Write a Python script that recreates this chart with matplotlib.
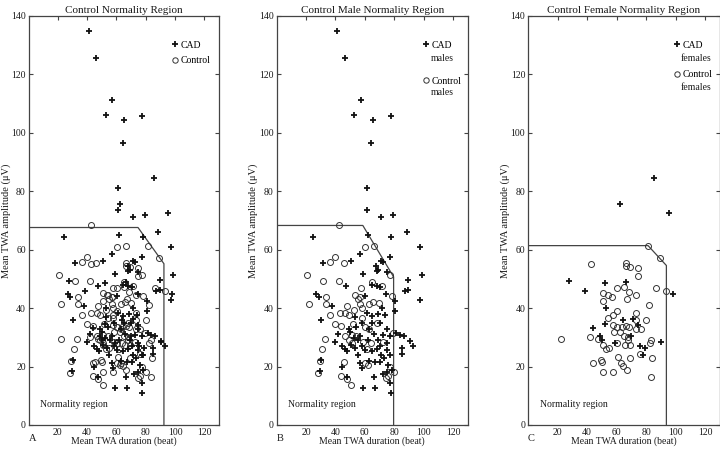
import numpy as np
import matplotlib
matplotlib.use("Agg")
import matplotlib.pyplot as plt

plt.rcParams['font.family'] = ['Liberation Serif', 'DejaVu Serif']

# ---------------- data ----------------
# Males: CAD patients
cad_male_x = [41, 46.2, 57.2, 52.7, 65.4, 77.6, 64.2, 61.3,
              61.3, 71, 79.4, 24.5, 62, 88.4, 77.8, 97.4, 56.8, 77.1, 71, 72.6,
              50.5, 31.5, 67.6, 69.2, 68.1, 74.8, 59, 89.5, 98.6, 47.3, 64.7, 68.1,
              70.3, 87.3, 89.5, 27, 28.6, 74.4, 60.4,
              30.4, 39.8, 44.4, 46.6, 50, 52.3, 55.6, 56.8, 61.3, 64.7, 68.7, 71.5,
              73.7, 74.8, 72.6, 77.1, 81.2, 83.9, 86.6, 90.6, 92.9, 85, 85, 60.2,
              64.7, 68.1, 70.3, 74.8, 77.1, 56.8, 57.9, 67, 70.3, 44.4, 30.4, 29.7,
              47.7, 66.5, 74.8, 78.2, 77.1, 77.5, 59, 66.9, 80.5, 80.5, 97.4, 37.6,
              50.5, 53.5, 48, 63, 66, 58, 54, 70, 62, 73, 76, 72,
              53, 49, 58, 65, 69, 75, 71, 63, 55, 42]
cad_male_y = [134.8, 125.5, 111.3, 106.1, 104.3, 105.8, 96.4, 81.2,
              73.6, 71.3, 71.8, 64.3, 65.2, 66.1, 64.4, 61, 58.6, 57.5, 56.3, 55.7,
              56.3, 55.3, 54.3, 53.2, 52.6, 52.3, 51.7, 49.8, 51.5, 47.7, 48, 47.7,
              47.2, 45.8, 46.3, 44.8, 43.8, 45, 44.3,
              35.8, 28.3, 27.1, 26, 31.7, 29.7, 29.2, 30.5, 38.3, 37.2, 38.1, 40,
              37.7, 32.8, 30.9, 30.3, 31.5, 30.9, 30.5, 28.6, 27.1, 26.3, 24.4, 25.7,
              25.2, 26, 26.9, 25.7, 24, 21.2, 19.4, 21.7, 21.7, 20, 22.3, 18.5,
              16.6, 16.6, 18.3, 18.9, 14.5, 11.1, 12.6, 12.6, 42.3, 38.9, 42.9, 40.6,
              27.5, 26.5, 25.5, 33, 31, 35, 33.5, 35, 29, 23, 20.5, 17.5,
              37, 33, 27, 35, 29, 28, 24, 22, 24, 31]

# Males: controls
control_male_x = [42.3, 66.5, 60.2, 39.8, 36.5, 45.9, 20.6, 31.9, 42.1, 57.5, 65.1,
                  71.5, 77.1, 78.2, 33.5, 53.4, 56.8, 55,
                  22.2, 33.5, 36.5, 42.8, 47.7, 46.6, 48.9, 52.7, 56.8, 57.9, 63.1,
                  65.8, 69.9, 57.9, 39.8, 43.7, 51.8, 60.2, 63.1, 68.1, 33.1, 30.8,
                  46.6, 51.1, 54.1, 48.9, 51.1, 58.6, 64, 61.7, 72.6, 79.4, 29.2,
                  28.5, 45.5, 62.4, 60.2, 43.9, 47.7, 50.5, 77.1, 80, 76, 74.4]
control_male_y = [68.6, 61.4, 60.9, 57.4, 55.7, 55.3, 51.4, 49.4, 49.4, 46.9, 48.8,
                  47.5, 51.5, 44.3, 43.8, 44.6, 43.8, 43.1,
                  41.3, 41.3, 37.5, 38.3, 40.8, 38.3, 37.7, 39.5, 41.5, 40, 41.5,
                  42, 41.8, 36.6, 34.7, 34, 34.7, 33.7, 32.8, 34.9, 29.4, 26,
                  30.5, 30.9, 30.3, 29.2, 28, 28.3, 28, 26, 28.3, 31.5, 22,
                  17.7, 21.4, 20.6, 21.2, 16.8, 15.7, 13.7, 20, 18.3, 16.8, 16]

# Females: CAD patients
cad_female_x = [62.2, 85.4, 95.5, 27.9, 38.5, 52, 66.2, 98.2, 52.7, 64, 71.2,
                74.6, 43.7, 52, 48.6, 49.8, 58.8, 70, 90.3, 75.7, 79, 77.9]
cad_female_y = [75.8, 84.7, 72.4, 49.4, 45.8, 48.6, 48.8, 44.8, 40, 36, 36.3,
                34.3, 33.2, 34.5, 30.3, 29.2, 28, 30.3, 28.3, 27.1, 26.3, 24]

# Females: controls
control_female_x = [81.3, 89.2, 42.6, 66.2, 66.2, 69, 74.8, 74.5, 93.2, 86.5, 60.4,
                    65.1, 68.5, 73, 50.9, 54.3, 57.2, 50.5, 67.3, 82, 60.4, 57.7,
                    54.3, 73, 80.2, 73.4, 57.7, 60.4, 63.7, 66.2, 68.5, 73.4, 76.4,
                    58.1, 62.2, 22.1, 41.9, 47.5, 65.3, 67.8, 67.6, 50.5, 54.9, 52.7,
                    60.4, 65.5, 68.9, 83.6, 82.4, 43.7, 49.1, 49.8, 61, 68.9, 76.1,
                    84.2, 63.3, 64.4, 66.7, 50.9, 57.7, 83.6]
control_female_y = [61.2, 57.0, 55.1, 55.5, 54.3, 54.1, 53.8, 51.1, 45.8, 46.9, 46.9,
                    47.1, 45.4, 44.6, 45.2, 44.4, 43.7, 42.6, 43.1, 41, 38.9, 37.7,
                    36.6, 38.5, 35.8, 35.8, 34.3, 33.7, 33.5, 34, 33.7, 32.8, 32.8,
                    31.7, 32, 29.4, 30, 29.4, 30.5, 30.1, 29.2, 27.5, 26.3, 26,
                    28, 27.5, 27.5, 29.2, 28, 21.2, 22.3, 21.7, 23.4, 22.9, 24.4,
                    23.1, 21.2, 20.2, 18.9, 18.3, 18.3, 16.4]

# Normality region boundaries (duration, amplitude)
bound_all_x = [0, 74.7, 92.4, 92.4]
bound_all_y = [67.6, 67.6, 55.2, 0]
bound_male_x = [0, 58.6, 79.5, 79.5]
bound_male_y = [68.3, 68.3, 50.7, 0]
bound_female_x = [0, 81.3, 93.7, 93.7]
bound_female_y = [61.4, 61.4, 54.6, 0]

titles = ["Control Normality Region", "Control Male Normality Region",
          "Control Female Normality Region"]
letters = ["A", "B", "C"]
x_ticks = [20, 40, 60, 80, 100, 120]
y_ticks = [0, 20, 40, 60, 80, 100, 120, 140]

# ---------------- figure ----------------
W, H = 720, 449
fig = plt.figure(figsize=(7.2, 4.49), dpi=100)

ax_rects = [(28.6, 190.4), (276.5, 191.5), (528, 192)]
bottom_px, top_px = 425, 16

panels = [
    (cad_male_x + cad_female_x, cad_male_y + cad_female_y,
     control_male_x + control_female_x, control_male_y + control_female_y,
     bound_all_x, bound_all_y, None),
    (cad_male_x, cad_male_y, control_male_x, control_male_y,
     bound_male_x, bound_male_y, "males"),
    (cad_female_x, cad_female_y, control_female_x, control_female_y,
     bound_female_x, bound_female_y, "females"),
]

ink = '#1a1a1a'
for i, ((l, w), panel) in enumerate(zip(ax_rects, panels)):
    cx, cy, kx, ky, bx, by, suffix = panel
    ax = fig.add_axes([l / W, 1 - bottom_px / H, w / W, (bottom_px - top_px) / H])
    ax.set_xlim(0, 130)
    ax.set_ylim(0, 140)
    ax.plot(bx, by, color='#444444', lw=0.9, zorder=1)
    h_ctrl, = ax.plot(kx, ky, linestyle='none', marker='o', ms=4.3,
                      mfc='none', mec='#333333', mew=0.7, label='Control', zorder=2)
    h_cad, = ax.plot(cx, cy, linestyle='none', marker='+', ms=4.5,
                     mec='#111111', mew=1.3, label='CAD', zorder=3)
    for s in ax.spines.values():
        s.set_color('#444444')
        s.set_linewidth(0.9)
    ax.set_xticks(x_ticks)
    ax.set_yticks(y_ticks)
    ax.tick_params(axis='both', direction='in', length=3, width=0.8,
                   colors='#444444', labelcolor=ink, labelsize=7, pad=2)
    ax.tick_params(axis='x', bottom=False, top=True)
    ax.tick_params(axis='y', left=True, right=True)
    ax.set_title(titles[i], fontsize=8, pad=2, color=ink)
    ax.set_xlabel("Mean TWA duration (beat)", fontsize=7, labelpad=0, color=ink)
    ax.set_ylabel("Mean TWA amplitude (\u03bcV)", fontsize=7.5, color=ink)
    ax.yaxis.set_label_coords(-0.095, 0.5)
    ax.text(0.06, 0.05, "Normality region", transform=ax.transAxes,
            fontsize=7, color=ink, ha='left', va='center')
    ax.text(0.0, -0.033, letters[i], transform=ax.transAxes,
            fontsize=7.5, color=ink, ha='left', va='center')
    if suffix is None:
        ax.legend(handles=[h_cad, h_ctrl], loc='upper left',
                  bbox_to_anchor=(0.755, 0.94), frameon=False, fontsize=7,
                  handlelength=0.6, handletextpad=0.25, borderpad=0,
                  borderaxespad=0, labelspacing=0.7, markerscale=0.9)
    else:
        ax.legend(handles=[h_cad, h_ctrl], loc='upper left',
                  bbox_to_anchor=(0.765 if suffix == "males" else 0.76, 0.94),
                  frameon=False, fontsize=7,
                  handlelength=0.6, handletextpad=0.25, borderpad=0,
                  borderaxespad=0, labelspacing=2.8 if suffix == "males" else 2.15,
                  markerscale=0.9)
        if suffix == "males":
            ys = (0.897, 0.813)
            xt = 0.805
        else:
            ys = (0.895, 0.826)
            xt = 0.797
        for yv in ys:
            ax.text(xt, yv, suffix, transform=ax.transAxes, fontsize=7,
                    color=ink, ha='left', va='center')

fig.savefig("out.png", dpi=100)
